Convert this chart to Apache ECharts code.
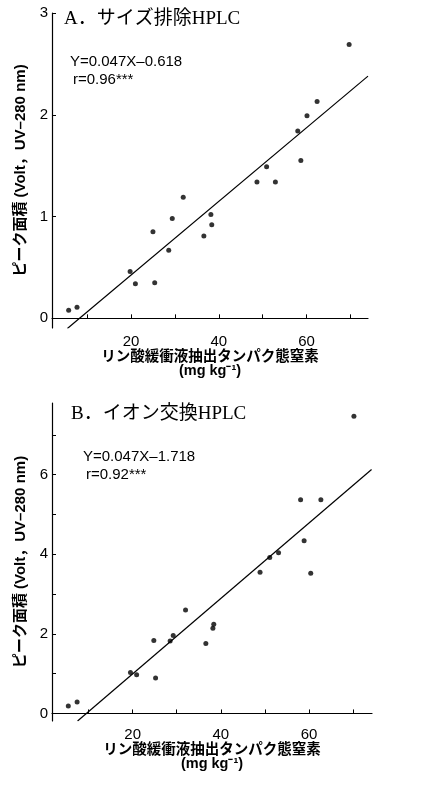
<!DOCTYPE html>
<html>
<head>
<meta charset="utf-8">
<script src="https://cdn.jsdelivr.net/npm/echarts@6/dist/echarts.min.js"></script>
<style>
  html, body { margin: 0; padding: 0; background: #fff; }
  #main { width: 431px; height: 787px; }
</style>
</head>
<body>
<div id="main"></div>
<script>
// A. サイズ排除HPLC  (x: mg/kg, y: Volt)
var sizeX = [5.8, 7.7, 19.8, 21.0, 25.0, 25.4, 28.6, 29.4, 31.9, 36.6, 38.2, 38.4, 48.7, 50.9, 52.9, 58.0, 58.7, 60.1, 62.4, 69.7];
var sizeY = [0.08, 0.11, 0.46, 0.34, 0.85, 0.35, 0.67, 0.98, 1.19, 0.81, 1.02, 0.92, 1.34, 1.49, 1.34, 1.84, 1.55, 1.99, 2.13, 2.69];
// 回帰直線の両端
var sizeLineX = [5.5, 74.0];
var sizeLineY = [-0.10, 2.38];

// B. イオン交換HPLC
var ionX = [5.4, 7.4, 19.5, 20.9, 24.8, 25.2, 28.5, 29.2, 32.0, 36.6, 38.2, 38.4, 48.9, 51.1, 53.1, 58.1, 58.9, 60.4, 62.7, 70.2];
var ionY = [0.19, 0.29, 1.03, 0.97, 1.83, 0.89, 1.82, 1.96, 2.60, 1.76, 2.14, 2.24, 3.55, 3.92, 4.04, 5.37, 4.34, 3.52, 5.37, 7.47];
var ionLineX = [7.5, 74.2];
var ionLineY = [-0.19, 6.13];

// 目盛
var xTicks = [10, 20, 30, 40, 50, 60, 70];
var xLabels = [20, 40, 60];
var sizeYTicks = [0, 1, 2, 3];
var ionYTicks = [0, 1, 2, 3, 4, 5, 6, 7];
var ionYLabels = [0, 2, 4, 6];

var titleA = 'A．サイズ排除HPLC';
var eqA = ['Y=0.047X–0.618', 'r=0.96***'];
var titleB = 'B．イオン交換HPLC';
var eqB = ['Y=0.047X–1.718', 'r=0.92***'];
var xName = 'リン酸緩衝液抽出タンパク態窒素\n(mg kg⁻¹)';
var yName = 'ピーク面積 (Volt，UV–280 nm)';

function pairs(xs, ys) {
    var out = [];
    for (var i = 0; i < xs.length; i++) {
        out.push([xs[i], ys[i]]);
    }
    return out;
}

window.onload = function () {
    var chart = echarts.init(document.getElementById('main'));
    var sans = '"Liberation Sans", Arial, sans-serif';
    var jp = '"Liberation Sans", "Noto Sans CJK JP", sans-serif';
    var serif = '"Liberation Serif", "Noto Sans CJK JP", serif';

    function xAxis(idx, min, max) {
        return {
            type: 'value', gridIndex: idx, min: min, max: max,
            splitLine: { show: false },
            axisLine: { lineStyle: { color: '#000', width: 1.2 } },
            axisTick: { inside: true, length: 4, customValues: xTicks, lineStyle: { color: '#000' } },
            axisLabel: { customValues: xLabels, color: '#000', fontSize: 15, fontFamily: sans, margin: 6 },
            name: xName, nameLocation: 'middle', nameGap: 20,
            nameTextStyle: { color: '#000', fontSize: 14.5, fontFamily: jp, fontWeight: 'bold', lineHeight: 14 }
        };
    }
    function yAxis(idx, min, max, ticks, labels) {
        return {
            type: 'value', gridIndex: idx, min: min, max: max,
            splitLine: { show: false },
            axisLine: { lineStyle: { color: '#000', width: 1.2 } },
            axisTick: { inside: true, length: 4, customValues: ticks, lineStyle: { color: '#000' } },
            axisLabel: { customValues: labels, color: '#000', fontSize: 15, fontFamily: sans, margin: 4 },
            name: yName, nameLocation: 'middle', nameGap: 18,
            nameTextStyle: { color: '#000', fontSize: 15, fontFamily: jp, fontWeight: 'bold' }
        };
    }

    var option = {
        animation: false,
        backgroundColor: '#fff',
        grid: [
            { left: 52, top: 13, width: 316, height: 315 },
            { left: 52, top: 403, width: 320, height: 318 }
        ],
        xAxis: [xAxis(0, 2, 74), xAxis(1, 1.7, 74.3)],
        yAxis: [
            yAxis(0, -0.095, 3, sizeYTicks, sizeYTicks),
            yAxis(1, -0.19, 7.8, ionYTicks, ionYLabels)
        ],
        graphic: [
            // パネル見出しと回帰式
            { type: 'text', left: 64, top: 10, style: { text: titleA, fontSize: 19, fontFamily: serif, fill: '#000' } },
            { type: 'text', left: 70, top: 54, style: { text: eqA[0], fontSize: 15, fontFamily: sans, fill: '#000' } },
            { type: 'text', left: 73, top: 72, style: { text: eqA[1], fontSize: 15, fontFamily: sans, fill: '#000' } },
            { type: 'text', left: 71, top: 405, style: { text: titleB, fontSize: 19, fontFamily: serif, fill: '#000' } },
            { type: 'text', left: 83, top: 449, style: { text: eqB[0], fontSize: 15, fontFamily: sans, fill: '#000' } },
            { type: 'text', left: 86, top: 467, style: { text: eqB[1], fontSize: 15, fontFamily: sans, fill: '#000' } }
        ],
        series: [
            {
                type: 'scatter', xAxisIndex: 0, yAxisIndex: 0, symbolSize: 5,
                itemStyle: { color: '#000' }, data: pairs(sizeX, sizeY)
            },
            {
                type: 'line', xAxisIndex: 0, yAxisIndex: 0, symbol: 'none',
                lineStyle: { color: '#000', width: 1.2 }, data: pairs(sizeLineX, sizeLineY)
            },
            {
                type: 'scatter', xAxisIndex: 1, yAxisIndex: 1, symbolSize: 5,
                itemStyle: { color: '#000' }, data: pairs(ionX, ionY)
            },
            {
                type: 'line', xAxisIndex: 1, yAxisIndex: 1, symbol: 'none',
                lineStyle: { color: '#000', width: 1.2 }, data: pairs(ionLineX, ionLineY)
            }
        ]
    };
    chart.setOption(option);
};
</script>
</body>
</html>
